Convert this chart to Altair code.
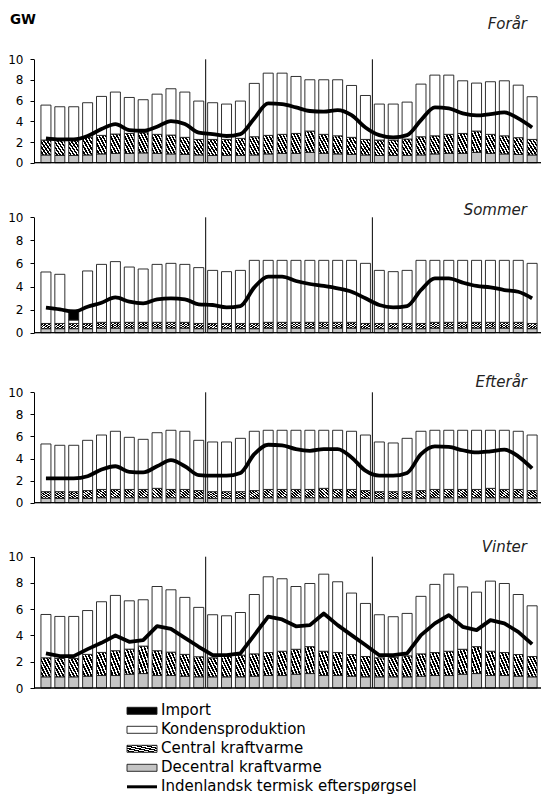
import altair as alt
import pandas as pd

# ---------------- data (GW) ----------------
SLOTS = list(range(1, 37))            # 3 days x 12 time slots
DAY_BOUNDARIES = [12.5, 24.5]
SEASONS = ["Forår", "Sommer", "Efterår", "Vinter"]
LEGEND_ITEMS = ["Import", "Kondensproduktion", "Central kraftvarme",
                "Decentral kraftvarme", "Indenlandsk termisk efterspørgsel"]

# levels of the stacked bars (top of each segment) and demand line
FORAAR_DECENTRAL = [0.75, 0.7, 0.7, 0.75, 0.85, 0.9, 0.9, 0.95, 0.9, 0.85, 0.8, 0.75,
                    0.7, 0.7, 0.7, 0.75, 0.85, 0.9, 0.9, 1.0, 0.9, 0.85, 0.8, 0.75,
                    0.7, 0.7, 0.7, 0.75, 0.85, 0.9, 0.9, 1.0, 0.9, 0.85, 0.8, 0.75]
FORAAR_CENTRAL_TOP = [2.19, 2.13, 2.13, 2.45, 2.64, 2.77, 2.83, 2.9, 2.74, 2.67, 2.45, 2.25,
                      2.25, 2.25, 2.35, 2.51, 2.64, 2.74, 2.83, 3.06, 2.74, 2.6, 2.45, 2.25,
                      2.19, 2.19, 2.29, 2.51, 2.6, 2.74, 2.83, 3.06, 2.74, 2.6, 2.42, 2.25]
FORAAR_KONDENS_TOP = [5.57, 5.41, 5.41, 5.8, 6.41, 6.83, 6.31, 6.09, 6.63, 7.15, 6.83, 5.96,
                      5.8, 5.67, 5.96, 7.67, 8.66, 8.66, 8.34, 8.02, 8.02, 8.02, 7.47, 6.5,
                      5.67, 5.67, 5.86, 7.6, 8.47, 8.47, 7.92, 7.7, 7.83, 7.92, 7.5, 6.38]
FORAAR_DEMAND = [2.35, 2.25, 2.25, 2.58, 3.25, 3.74, 3.16, 3.09, 3.48, 4.03, 3.74, 2.9,
                 2.77, 2.58, 2.77, 4.28, 5.73, 5.67, 5.35, 5.0, 4.93, 5.09, 4.6, 3.41,
                 2.67, 2.45, 2.67, 4.12, 5.35, 5.25, 4.77, 4.57, 4.7, 4.86, 4.28, 3.41]

SOMMER_DECENTRAL = [0.35, 0.35, 0.35, 0.35, 0.4, 0.4, 0.4, 0.4, 0.4, 0.4, 0.4, 0.35,
                    0.35, 0.35, 0.35, 0.35, 0.4, 0.4, 0.4, 0.4, 0.4, 0.4, 0.4, 0.35,
                    0.35, 0.35, 0.35, 0.35, 0.4, 0.4, 0.4, 0.4, 0.4, 0.4, 0.4, 0.35]
SOMMER_CENTRAL_TOP = [0.8, 0.8, 0.8, 0.8, 0.9, 0.9, 0.9, 0.9, 0.9, 0.9, 0.9, 0.8,
                      0.8, 0.8, 0.8, 0.8, 0.9, 0.9, 0.9, 0.9, 0.9, 0.9, 0.9, 0.8,
                      0.8, 0.8, 0.8, 0.8, 0.9, 0.9, 0.9, 0.9, 0.9, 0.9, 0.9, 0.8]
SOMMER_KONDENS_TOP = [5.26, 5.06, 1.1, 5.35, 5.92, 6.16, 5.69, 5.52, 5.92, 6.01, 5.92, 5.64,
                      5.4, 5.29, 5.4, 6.27, 6.27, 6.27, 6.27, 6.27, 6.27, 6.27, 6.27, 6.01,
                      5.4, 5.29, 5.4, 6.27, 6.27, 6.27, 6.27, 6.27, 6.27, 6.27, 6.27, 6.01]
SOMMER_IMPORT = [0, 0, 0.87, 0, 0, 0, 0, 0, 0, 0, 0, 0,
                 0, 0, 0, 0, 0, 0, 0, 0, 0, 0, 0, 0,
                 0, 0, 0, 0, 0, 0, 0, 0, 0, 0, 0, 0]
SOMMER_DEMAND = [2.17, 2.02, 1.82, 2.25, 2.6, 3.06, 2.69, 2.54, 2.89, 2.98, 2.89, 2.46,
                 2.4, 2.2, 2.31, 3.93, 4.86, 4.86, 4.48, 4.22, 4.05, 3.84, 3.55, 2.98,
                 2.4, 2.2, 2.31, 3.7, 4.71, 4.71, 4.34, 4.05, 3.93, 3.7, 3.55, 2.98]

EFTERAAR_DECENTRAL = [0.4, 0.4, 0.4, 0.4, 0.45, 0.45, 0.45, 0.45, 0.45, 0.45, 0.45, 0.4,
                      0.4, 0.4, 0.4, 0.4, 0.45, 0.45, 0.45, 0.45, 0.45, 0.45, 0.45, 0.4,
                      0.4, 0.4, 0.4, 0.4, 0.45, 0.45, 0.45, 0.45, 0.45, 0.45, 0.45, 0.4]
EFTERAAR_CENTRAL_TOP = [1.0, 1.0, 1.0, 1.1, 1.2, 1.2, 1.2, 1.2, 1.3, 1.2, 1.2, 1.1,
                        1.0, 1.0, 1.0, 1.1, 1.2, 1.2, 1.2, 1.2, 1.3, 1.2, 1.2, 1.1,
                        1.0, 1.0, 1.0, 1.1, 1.2, 1.2, 1.2, 1.2, 1.3, 1.2, 1.2, 1.1]
EFTERAAR_KONDENS_TOP = [5.32, 5.2, 5.2, 5.65, 6.13, 6.47, 5.92, 5.74, 6.34, 6.56, 6.47, 5.65,
                        5.5, 5.5, 5.83, 6.47, 6.56, 6.56, 6.56, 6.56, 6.56, 6.56, 6.47, 6.13,
                        5.5, 5.41, 5.83, 6.47, 6.56, 6.56, 6.56, 6.56, 6.56, 6.56, 6.47, 6.13]
EFTERAAR_DEMAND = [2.2, 2.2, 2.2, 2.4, 3.0, 3.3, 2.8, 2.75, 3.3, 3.85, 3.3, 2.5,
                   2.45, 2.45, 2.7, 4.4, 5.25, 5.2, 4.85, 4.7, 4.85, 4.85, 4.1, 2.9,
                   2.45, 2.45, 2.7, 4.4, 5.1, 5.05, 4.75, 4.55, 4.65, 4.8, 4.2, 3.1]

VINTER_DECENTRAL = [0.85, 0.85, 0.85, 0.9, 0.95, 0.95, 1.05, 1.1, 0.95, 0.95, 0.9, 0.85,
                    0.85, 0.85, 0.85, 0.9, 0.95, 0.95, 1.05, 1.1, 0.95, 0.95, 0.9, 0.85,
                    0.85, 0.85, 0.85, 0.9, 0.95, 0.95, 1.05, 1.1, 0.95, 0.95, 0.9, 0.85]
VINTER_CENTRAL_TOP = [2.3, 2.25, 2.25, 2.56, 2.71, 2.84, 2.96, 3.19, 2.84, 2.73, 2.56, 2.38,
                      2.3, 2.4, 2.5, 2.6, 2.7, 2.8, 2.95, 3.15, 2.8, 2.7, 2.55, 2.4,
                      2.3, 2.35, 2.45, 2.6, 2.7, 2.8, 2.95, 3.15, 2.8, 2.7, 2.55, 2.4]
VINTER_KONDENS_TOP = [5.6, 5.45, 5.45, 5.9, 6.57, 7.05, 6.64, 6.72, 7.73, 7.48, 6.9, 6.14,
                      5.58, 5.5, 5.75, 7.12, 8.47, 8.32, 7.73, 7.96, 8.67, 8.09, 7.23, 6.44,
                      5.58, 5.43, 5.68, 6.98, 7.89, 8.67, 7.7, 7.3, 8.14, 7.96, 7.12, 6.26]
VINTER_DEMAND = [2.63, 2.43, 2.43, 2.96, 3.44, 4.0, 3.52, 3.65, 4.71, 4.5, 3.82, 3.14,
                 2.5, 2.5, 2.63, 4.03, 5.43, 5.22, 4.7, 4.79, 5.68, 4.79, 4.03, 3.27,
                 2.5, 2.5, 2.63, 4.03, 4.92, 5.55, 4.66, 4.41, 5.17, 4.92, 4.28, 3.34]

# ---------------- layout / style ----------------
FONT = "DejaVu Sans"
PLOT_LEFT = 34
PLOT_W = 507
PLOT_H = 796
SLOT_PX = 14.17
X_DOMAIN = [0.5, 0.5 + PLOT_W / SLOT_PX]
DOT_GRAY = "#c4c4c4"
OUTLINE = "#1a1a1a"

# pixel band (bottom, top) of each panel, title baseline, line interpolation
PANEL_LAYOUT = {
    "Forår": (162.7, 59.3, 29.3, "monotone"),
    "Sommer": (332.7, 217.3, 215.0, "monotone"),
    "Efterår": (502.7, 392.3, 386.7, "monotone"),
    "Vinter": (688.0, 556.7, 551.7, "linear"),
}
PANEL_DATA = {
    "Forår": (FORAAR_DECENTRAL, FORAAR_CENTRAL_TOP, FORAAR_KONDENS_TOP, None, FORAAR_DEMAND),
    "Sommer": (SOMMER_DECENTRAL, SOMMER_CENTRAL_TOP, SOMMER_KONDENS_TOP, SOMMER_IMPORT, SOMMER_DEMAND),
    "Efterår": (EFTERAAR_DECENTRAL, EFTERAAR_CENTRAL_TOP, EFTERAAR_KONDENS_TOP, None, EFTERAAR_DEMAND),
    "Vinter": (VINTER_DECENTRAL, VINTER_CENTRAL_TOP, VINTER_KONDENS_TOP, None, VINTER_DEMAND),
}


def hatch(n=6, frac=0.55):
    stops = []
    for k in range(n):
        a, b, c = k / n, (k + frac) / n, (k + 1) / n
        stops += [alt.GradientStop(offset=a, color="black"),
                  alt.GradientStop(offset=b, color="black"),
                  alt.GradientStop(offset=b, color="white"),
                  alt.GradientStop(offset=c, color="white")]
    return alt.Gradient(gradient="linear", stops=stops, x1=1, y1=0, x2=0, y2=1)


HATCH = hatch()
X_ENC = alt.X("t:Q", scale=alt.Scale(domain=X_DOMAIN, nice=False, zero=False), axis=None)
BAR = dict(width=10, stroke=OUTLINE, strokeWidth=0.9)


def panel_layers(name):
    bottom, top, title_y, interp = PANEL_LAYOUT[name]
    dec, cen, kon, imp, dem = PANEL_DATA[name]
    df = pd.DataFrame({"t": SLOTS, "base": [0.0] * len(SLOTS), "dec": dec,
                       "cen": cen, "kon": kon, "dem": dem})
    df["imp"] = imp if imp is not None else [0] * len(SLOTS)
    df["imp_top"] = df["kon"] + df["imp"]

    def ys():
        return alt.Scale(domain=[0, 10], range=[bottom, top], nice=False, zero=False)

    axis = alt.Axis(orient="left", values=[0, 2, 4, 6, 8, 10], grid=False, title=None,
                    domainColor="black", domainWidth=1, tickColor="black", tickSize=4,
                    tickWidth=1, labelPadding=7, labelFont=FONT, labelFontSize=12,
                    labelColor="black", labelOverlap=False, labelFlush=False)

    base = alt.Chart(df)
    layers = []
    layers.append(base.mark_bar(fill=DOT_GRAY, **BAR).encode(
        x=X_ENC, y=alt.Y("base:Q", scale=ys(), axis=axis), y2="dec:Q"))
    layers.append(base.mark_bar(fill=HATCH, **BAR).encode(
        x=X_ENC, y=alt.Y("dec:Q", scale=ys(), axis=None), y2="cen:Q"))
    layers.append(base.mark_bar(fill="white", **BAR).encode(
        x=X_ENC, y=alt.Y("cen:Q", scale=ys(), axis=None), y2="kon:Q"))
    if imp is not None:
        layers.append(base.transform_filter("datum.imp > 0").mark_bar(fill="black", **BAR).encode(
            x=X_ENC, y=alt.Y("kon:Q", scale=ys(), axis=None), y2="imp_top:Q"))
    layers.append(base.mark_line(color="black", strokeWidth=3.8, interpolate=interp,
                                 strokeJoin="round", strokeCap="butt").encode(
        x=X_ENC, y=alt.Y("dem:Q", scale=ys(), axis=None)))
    div = pd.DataFrame({"b": DAY_BOUNDARIES})
    layers.append(alt.Chart(div).mark_rule(color="black", strokeWidth=1).encode(
        x=alt.X("b:Q", scale=alt.Scale(domain=X_DOMAIN, nice=False, zero=False), axis=None),
        y=alt.Y(datum=0, type="quantitative", scale=ys(), axis=None),
        y2=alt.Y2(datum=10)))
    layers.append(alt.Chart(div).mark_rule(color="black", strokeWidth=1).encode(
        x=alt.value(0), x2=alt.value(PLOT_W),
        y=alt.Y(datum=0, type="quantitative", scale=ys(), axis=None)))
    ttl = pd.DataFrame({"season": [name]})
    layers.append(alt.Chart(ttl).mark_text(
        align="right", baseline="alphabetic", font=FONT, fontSize=15,
        fontStyle="italic", color="#222").encode(
        x=alt.value(493), y=alt.value(title_y), text="season:N"))
    return layers


layers = []
for s in SEASONS:
    layers += panel_layers(s)

# "GW" unit label
layers.append(alt.Chart(pd.DataFrame({"u": ["GW"]})).mark_text(
    align="left", baseline="alphabetic", font=FONT, fontSize=13.5, fontWeight="bold",
    color="black").encode(x=alt.value(-24), y=alt.value(23.5), text="u:N"))

# legend
leg = pd.DataFrame({"item": LEGEND_ITEMS})


def leg_y():
    return alt.Y("item:N", sort=LEGEND_ITEMS,
                 scale=alt.Scale(type="point", domain=LEGEND_ITEMS, range=[710.8, 786.8], padding=0),
                 axis=None)


SYM_X0, SYM_X1, TXT_X = 93, 123, 127
leg_fills = [("Import", "black"), ("Kondensproduktion", "white"),
             ("Central kraftvarme", HATCH), ("Decentral kraftvarme", DOT_GRAY)]
for item, fill in leg_fills:
    layers.append(alt.Chart(leg).transform_filter(alt.datum.item == item).mark_bar(
        fill=fill, stroke=OUTLINE, strokeWidth=0.9, height=7).encode(
        x=alt.value(SYM_X0), x2=alt.value(SYM_X1), y=leg_y()))
layers.append(alt.Chart(leg).transform_filter(alt.datum.item == LEGEND_ITEMS[-1]).mark_rule(
    color="black", strokeWidth=3).encode(x=alt.value(SYM_X0), x2=alt.value(SYM_X1), y=leg_y()))
layers.append(alt.Chart(leg).mark_text(
    align="left", baseline="middle", font=FONT, fontSize=15, color="black", dy=-1).encode(
    x=alt.value(TXT_X), y=leg_y(), text="item:N"))

chart = alt.layer(*layers).resolve_scale(y="independent").properties(
    width=PLOT_W, height=PLOT_H,
    padding={"left": PLOT_LEFT, "top": 0, "right": 0, "bottom": 0},
    autosize=alt.AutoSizeParams(type="none"),
    background="white",
).configure_view(strokeWidth=0)

chart.save("out.html", embed_options={"renderer": "svg", "actions": False})
